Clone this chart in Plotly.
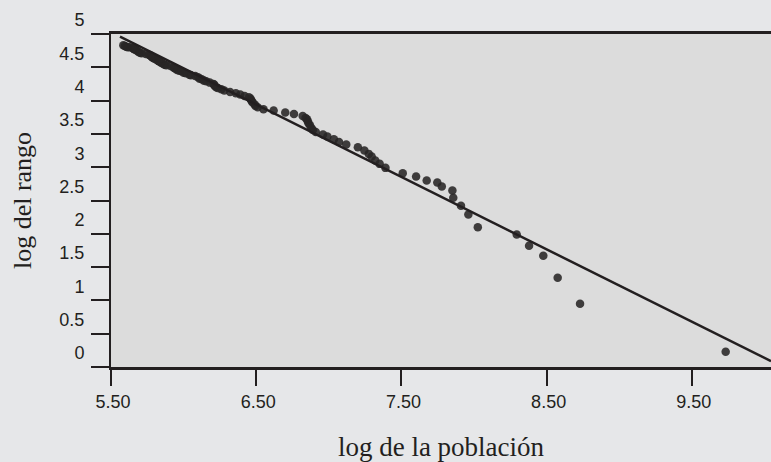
import plotly.graph_objects as go

# ---- data ----
log_pop = [
    9.733, 8.730, 8.576, 8.477, 8.379, 8.294, 8.026, 7.961, 7.910, 7.857,
    7.851, 7.778, 7.747, 7.674, 7.601, 7.509, 7.39, 7.35, 7.32, 7.295,
    7.275, 7.245, 7.20, 7.12, 7.07, 7.035, 6.99, 6.96, 6.91, 6.89,
    6.88, 6.87, 6.86, 6.855, 6.85, 6.84, 6.82, 6.76, 6.70, 6.62,
    6.55, 6.51, 6.495, 6.49, 6.475, 6.47, 6.465, 6.46, 6.45, 6.42,
    6.39, 6.36, 6.32, 6.28, 6.26, 6.235, 6.225, 6.215, 6.21, 6.205,
    6.18, 6.155, 6.14, 6.125, 6.11, 6.10, 6.08, 6.05, 6.04, 6.015,
    6.00, 5.985, 5.97, 5.955, 5.945, 5.935, 5.93, 5.91, 5.88, 5.87,
    5.86, 5.845, 5.84, 5.83, 5.825, 5.815, 5.80, 5.79, 5.785, 5.78,
    5.775, 5.77, 5.76, 5.74, 5.71, 5.70, 5.69, 5.68, 5.67, 5.66,
    5.655, 5.65, 5.63, 5.615, 5.605, 5.595, 5.585,
]
log_rank = [
    0.03, 0.75, 1.14, 1.47, 1.62, 1.79, 1.90, 2.09, 2.22, 2.34,
    2.45, 2.51, 2.57, 2.60, 2.66, 2.71, 2.79, 2.85, 2.90, 2.96,
    3.00, 3.05, 3.10, 3.14, 3.18, 3.22, 3.26, 3.29, 3.33, 3.36,
    3.39, 3.43, 3.46, 3.49, 3.52, 3.54, 3.57, 3.60, 3.62, 3.65,
    3.67, 3.70, 3.72, 3.74, 3.77, 3.79, 3.81, 3.83, 3.85, 3.87,
    3.89, 3.91, 3.93, 3.95, 3.97, 3.99, 4.00, 4.02, 4.04, 4.05,
    4.07, 4.09, 4.10, 4.12, 4.13, 4.15, 4.17, 4.18, 4.19, 4.21,
    4.22, 4.24, 4.25, 4.26, 4.28, 4.29, 4.30, 4.32, 4.33, 4.34,
    4.35, 4.37, 4.38, 4.39, 4.40, 4.41, 4.43, 4.44, 4.45, 4.46,
    4.47, 4.48, 4.49, 4.50, 4.51, 4.52, 4.53, 4.55, 4.56, 4.57,
    4.58, 4.59, 4.60, 4.60, 4.61, 4.62, 4.63,
]
fit_x = [5.562, 10.045]
fit_y = [4.76, -0.113]

x_tickvals = [5.5, 6.5, 7.5, 8.5, 9.5]
x_ticktext = ["5.50", "6.50", "7.50", "8.50", "9.50"]
y_tickvals = [-0.2, 0.3, 0.8, 1.3, 1.8, 2.3, 2.8, 3.3, 3.8, 4.3, 4.8]
y_ticktext = ["0", "0.5", "1", "1.5", "2", "2.5", "3", "3.5", "4", "4.5", "5"]

INK = "#231f20"
SANS = "Liberation Sans, Arial, sans-serif"
SERIF = "Liberation Serif, Times New Roman, serif"

fig = go.Figure()
fig.add_trace(go.Scatter(
    x=log_pop, y=log_rank, mode="markers",
    marker=dict(size=8.5, color="rgba(40,38,38,0.88)", line=dict(width=0)),
    showlegend=False, hoverinfo="skip",
))
fig.add_trace(go.Scatter(
    x=fit_x, y=fit_y, mode="lines",
    line=dict(color=INK, width=2.5),
    showlegend=False, hoverinfo="skip",
))

fig.update_layout(
    width=771, height=462,
    margin=dict(l=111, r=0, t=34, b=95),
    paper_bgcolor="#e6e7e9",
    plot_bgcolor="#dcdcdc",
    font=dict(family=SANS, color=INK, size=18),
    xaxis=dict(
        range=[5.5, 10.045], tickmode="array",
        tickvals=x_tickvals, ticktext=x_ticktext,
        ticks="outside", ticklen=16, tickwidth=2, tickcolor=INK,
        showline=True, linewidth=2.5, linecolor=INK, mirror=True,
        showgrid=False, zeroline=False,
        tickfont=dict(size=18, family=SANS, color=INK),
        ticklabelshift=2, ticklabelstandoff=1,
        title=dict(text="log de la población",
                   font=dict(family=SERIF, size=27, color=INK),
                   standoff=26),
        automargin=False,
    ),
    yaxis=dict(
        range=[-0.2, 4.8], tickmode="array",
        tickvals=y_tickvals, ticktext=y_ticktext,
        ticks="outside", ticklen=18, tickwidth=2, tickcolor=INK,
        showline=True, linewidth=2, linecolor=INK,
        showgrid=False, zeroline=False,
        tickfont=dict(size=18, family=SANS, color=INK),
        ticklabelshift=-14, ticklabelstandoff=3,
        title=dict(text="log del rango",
                   font=dict(family=SERIF, size=26, color=INK),
                   standoff=20),
        automargin=False,
    ),
)

fig.write_html("out.html")
